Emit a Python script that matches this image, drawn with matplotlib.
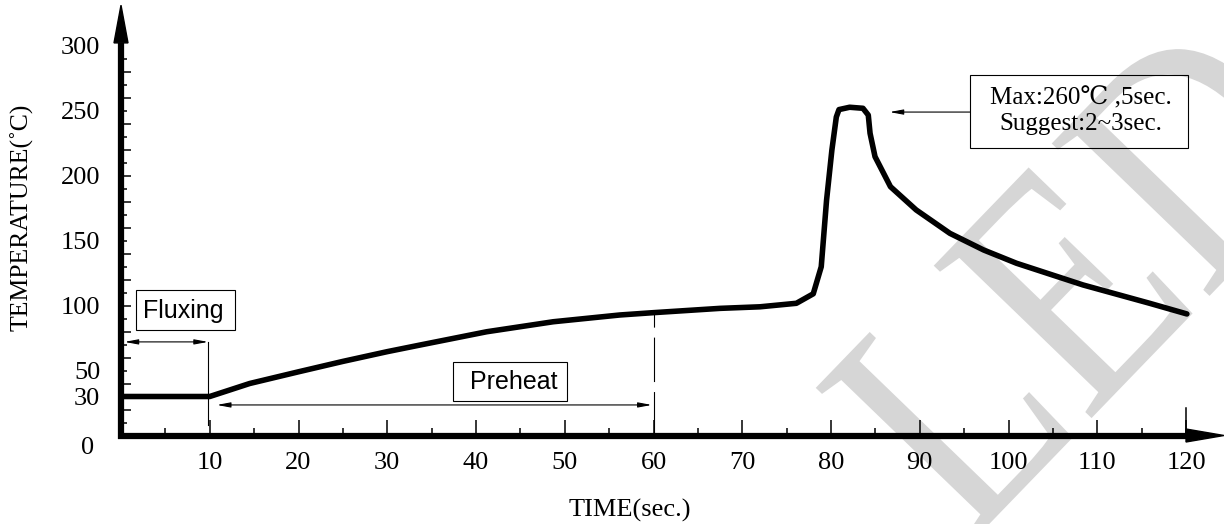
import matplotlib
matplotlib.use("Agg")
import matplotlib.pyplot as plt
from matplotlib.patches import Rectangle, Polygon, PathPatch
from matplotlib.textpath import TextPath
from matplotlib.font_manager import FontProperties
from matplotlib.transforms import Affine2D
import numpy as np

plt.rcParams["font.family"] = ["Liberation Serif", "DejaVu Serif", "DejaVu Sans"]

# reflow profile
time_s = [0, 10, 14.5, 20, 25, 30, 33.7, 41.2, 48.7, 56.2, 60, 67.5, 72, 76.1, 78,
          78.9, 79.5, 80.1, 80.6, 80.9, 82.1, 83.6, 84.2, 84.4, 84.96, 86.7, 89.6,
          93.4, 97.2, 100.9, 108.4, 115.9, 120.1]
temp_c = [30, 30, 40, 49, 57, 64.5, 69.6, 79.8, 87.5, 92.7, 94.5, 97.8, 99, 101.7, 109,
          129.8, 181, 219.6, 245, 250.7, 252.5, 251.7, 246.5, 232.5, 214.5, 191.4, 173.5,
          155.5, 142.7, 132.5, 115.8, 101.7, 93.5]

x_labels = [10, 20, 30, 40, 50, 60, 70, 80, 90, 100, 110, 120]
y_labels = [30, 50, 100, 150, 200, 250, 300]
flux_end = 9.8
preheat_start, preheat_end = 10.8, 59.8
peak_note = ["Max:260℃ ,5sec.", "Suggest:2~3sec."]

W, H = 1224, 524
fig = plt.figure(figsize=(W / 100, H / 100), dpi=100)
ax = fig.add_axes([121 / W, (H - 435.5) / H, 1065 / W, 390 / H])
ax.set_xlim(0, 120)
ax.set_ylim(0, 300)
for s in ax.spines.values():
    s.set_visible(False)
ax.patch.set_alpha(0)

PX_T = 120 / 1065  # seconds per pixel
PX_C = 300 / 390   # degrees per pixel

# watermark, a narrow serif "LED" running up to the right
wm = TextPath((0, 0), "LED", size=335, prop=FontProperties(family="Liberation Serif"))
wm_tr = Affine2D().scale(0.83, 1).rotate_deg(46).translate(968, -22)
fig.add_artist(PathPatch(wm, transform=wm_tr, facecolor="#d6d6d6", edgecolor="none",
                         zorder=-1))

# axes with arrow heads
ax.plot([-3.2 * PX_T, 120], [0, 0], color="black", lw=4.5, solid_capstyle="butt",
        clip_on=False, zorder=4)
ax.plot([0, 0], [-3.2 * PX_C, 302], color="black", lw=4.5, solid_capstyle="butt",
        clip_on=False, zorder=4)
ax.add_patch(Polygon([[120, -6.5 * PX_C], [120 + 38 * PX_T, 0], [120, 6.5 * PX_C]],
                     closed=True, color="black", clip_on=False, zorder=4))
ax.add_patch(Polygon([[-7 * PX_T, 302], [0, 331], [7 * PX_T, 302]],
                     closed=True, color="black", clip_on=False, zorder=4))

# ticks
ax.set_xticks(x_labels)
ax.set_xticklabels([str(v) for v in x_labels])
ax.set_xticks(np.arange(5, 120, 10), minor=True)
ax.tick_params(axis="x", which="major", direction="in", length=11.5, width=1.1,
               pad=12, labelsize=19)
ax.tick_params(axis="x", which="minor", direction="in", length=5.8, width=1.1)
ax.plot([120, 120], [0, 28 * PX_C], color="black", lw=1.1, clip_on=False)

ax.set_yticks(np.arange(20, 300, 20))
ax.set_yticklabels([])
ax.set_yticks(np.arange(10, 300, 20), minor=True)
ax.tick_params(axis="y", which="major", direction="in", length=7.2, width=1.1)
ax.tick_params(axis="y", which="minor", direction="in", length=4.3, width=1.1)

sec = ax.secondary_yaxis("left")
sec.set_yticks(y_labels)
sec.set_yticklabels([str(v) for v in y_labels])
sec.tick_params(length=0, pad=15, labelsize=19)
sec.spines["left"].set_visible(False)
ax.text(-33 * PX_T, -10, "0", fontsize=19, ha="center", va="center")

# profile curve
ax.plot(time_s, temp_c, color="black", lw=4, solid_joinstyle="round",
        solid_capstyle="round", clip_on=False, zorder=5)

# fluxing annotation
arrow = dict(arrowstyle="<|-|>,head_length=0.8,head_width=0.15", color="black",
             lw=0.8, shrinkA=0, shrinkB=0, mutation_scale=10)
ax.annotate("", xy=(flux_end, 72), xytext=(0.4, 72), arrowprops=arrow)
ax.plot([flux_end, flux_end], [72, 8], color="black", lw=0.8)
ax.add_patch(Rectangle((1.69, 81.2), 11.16, 30.7, fill=False, ec="black", lw=0.8))
ax.text(6.99, 95.5, "Fluxing", family="Liberation Sans", fontsize=18,
        ha="center", va="center")

# preheat annotation
ax.annotate("", xy=(preheat_end, 23.5), xytext=(preheat_start, 23.5), arrowprops=arrow)
dash, = ax.plot([60, 60], [0, 94.5], color="black", lw=0.8)
dash.set_dashes((40, 9))
ax.add_patch(Rectangle((37.4, 26.8), 12.8, 30.0, fill=False, ec="black", lw=0.8))
ax.text(44.2, 41.5, "Preheat", family="Liberation Sans", fontsize=18,
        ha="center", va="center")

# peak annotation
ax.annotate("", xy=(86.6, 248.8), xytext=(95.7, 248.8),
            arrowprops=dict(arrowstyle="-|>,head_length=0.8,head_width=0.15",
                            color="black", lw=0.8, shrinkA=0, shrinkB=0,
                            mutation_scale=10), annotation_clip=False)
ax.add_patch(Rectangle((95.7, 221.2), 24.5, 56.1, fill=False, ec="black", lw=0.8,
                       clip_on=False))
ax.text(108.1, 249.5, "\n".join(peak_note), fontsize=18, ha="center", va="center",
        linespacing=1.2, clip_on=False)

fig.text(22 / W, 1 - 217 / H, "TEMPERATURE(˚C)", fontsize=18.5, rotation=90,
         ha="center", va="center")
fig.text(630 / W, 1 - 510 / H, "TIME(sec.)", fontsize=19, ha="center", va="center")

fig.savefig("out.png", dpi=100)
